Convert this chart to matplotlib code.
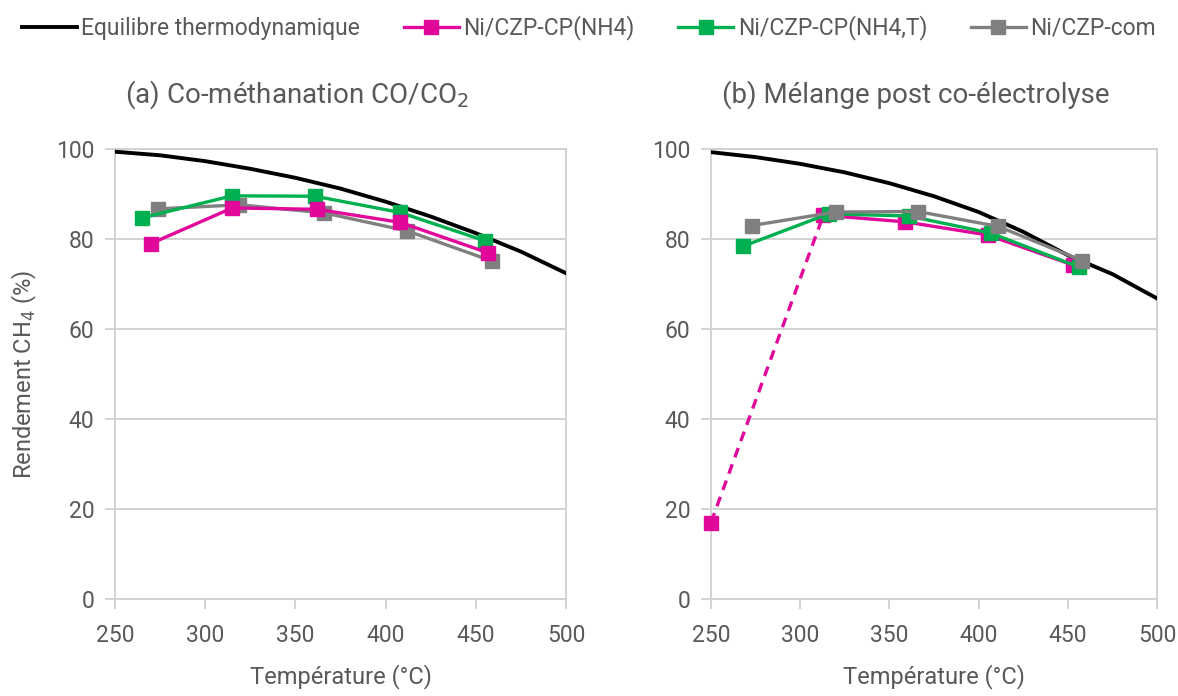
import matplotlib
matplotlib.use("Agg")
import matplotlib.pyplot as plt
from matplotlib.lines import Line2D

plt.rcParams['font.family'] = ["Roboto", "DejaVu Sans"]

# ---- Data ----
eq_T = [250, 275, 300, 325, 350, 375, 400, 425, 450, 475, 500]
eq_a = [99.4, 98.6, 97.3, 95.6, 93.6, 91.2, 88.3, 85.0, 81.3, 77.2, 72.4]
eq_b = [99.3, 98.2, 96.7, 94.8, 92.4, 89.5, 86.0, 81.6, 76.4, 72.2, 66.8]

a_nh4_T = [270, 315, 362, 408, 457]
a_nh4_y = [79.0, 86.9, 86.6, 83.7, 76.9]
a_nh4t_T = [265, 315, 361, 408, 455]
a_nh4t_y = [84.7, 89.6, 89.5, 85.9, 79.6]
a_com_T = [274, 319, 366, 412, 459]
a_com_y = [86.7, 87.6, 85.8, 81.8, 75.1]

b_nh4_T = [250, 313, 359, 405, 453]
b_nh4_y = [17.0, 85.3, 83.8, 80.9, 74.2]
b_nh4t_T = [268, 316, 361, 407, 456]
b_nh4t_y = [78.4, 85.6, 85.1, 81.3, 73.8]
b_com_T = [273, 320, 366, 411, 458]
b_com_y = [83.0, 86.0, 86.1, 82.8, 75.2]

labels = ["Equilibre thermodynamique", "Ni/CZP-CP(NH4)", "Ni/CZP-CP(NH4,T)", "Ni/CZP-com"]
titles = ["(a) Co-méthanation CO/CO$_2$", "(b) Mélange post co-électrolyse"]

C_MAG = "#E0079A"
C_GRN = "#00B050"
C_GRY = "#808080"
TXT = "#595959"
GRID = "#D0D0D0"

FS = 16.5

fig = plt.figure(figsize=(11.78, 6.96), dpi=100)
axA = fig.add_axes([115/1178, 1-599/696, (566-115)/1178, 450/696])
axB = fig.add_axes([711/1178, 1-599/696, (1157-711)/1178, 450/696])

ms = 10
lw = 2.4

def style(ax):
    ax.set_xlim(250, 500)
    ax.set_ylim(0, 100)
    ax.set_xticks(range(250, 501, 50))
    ax.set_yticks(range(0, 101, 20))
    ax.grid(axis='y', color=GRID, lw=1.3, zorder=0)
    for s in ax.spines.values():
        s.set_color(GRID)
        s.set_linewidth(1.3)
    ax.tick_params(axis='both', colors=GRID, labelcolor=TXT, labelsize=FS, length=7, width=1.3)
    ax.tick_params(axis='x', pad=11)
    ax.tick_params(axis='y', pad=8)
    ax.set_xlabel("Température (°C)", fontsize=FS + 0.5, color=TXT, labelpad=12)

# Panel A
axA.plot(eq_T, eq_a, color="black", lw=2.8, zorder=3)
axA.plot(a_com_T, a_com_y, color=C_GRY, lw=lw, marker='s', ms=ms, zorder=4)
axA.plot(a_nh4t_T, a_nh4t_y, color=C_GRN, lw=lw, marker='s', ms=ms, zorder=5)
axA.plot(a_nh4_T, a_nh4_y, color=C_MAG, lw=lw, marker='s', ms=ms, zorder=6)
style(axA)
axA.set_ylabel("Rendement CH$_4$ (%)", fontsize=FS + 0.5, color=TXT, labelpad=12)

# Panel B
axB.plot(eq_T, eq_b, color="black", lw=2.8, zorder=3)
axB.plot(b_nh4_T[:2], b_nh4_y[:2], color=C_MAG, lw=lw, ls=(0, (3, 2.2)), zorder=6)
axB.plot(b_nh4_T[1:], b_nh4_y[1:], color=C_MAG, lw=lw, zorder=4)
axB.plot(b_nh4_T, b_nh4_y, color=C_MAG, lw=0, marker='s', ms=ms, zorder=4, clip_on=False)
axB.plot(b_nh4t_T, b_nh4t_y, color=C_GRN, lw=lw, marker='s', ms=ms, zorder=5)
axB.plot(b_com_T, b_com_y, color=C_GRY, lw=lw, marker='s', ms=ms, zorder=6)
style(axB)

fig.text(297/1178, 1-95/696, titles[0], fontsize=20, color=TXT, ha='center', va='center')
fig.text(916/1178, 1-95/696, titles[1], fontsize=20, color=TXT, ha='center', va='center')

handles = [
    Line2D([], [], color="black", lw=2.8),
    Line2D([], [], color=C_MAG, lw=lw, marker='s', ms=ms),
    Line2D([], [], color=C_GRN, lw=lw, marker='s', ms=ms),
    Line2D([], [], color=C_GRY, lw=lw, marker='s', ms=ms),
]
leg = fig.legend(handles, labels, loc='center', bbox_to_anchor=(0.5, 1-28/696), ncol=4,
                 frameon=False, fontsize=FS, handlelength=2.4, handletextpad=0.2,
                 columnspacing=1.9)
for t in leg.get_texts():
    t.set_color(TXT)

fig.savefig("out.png", dpi=100)
